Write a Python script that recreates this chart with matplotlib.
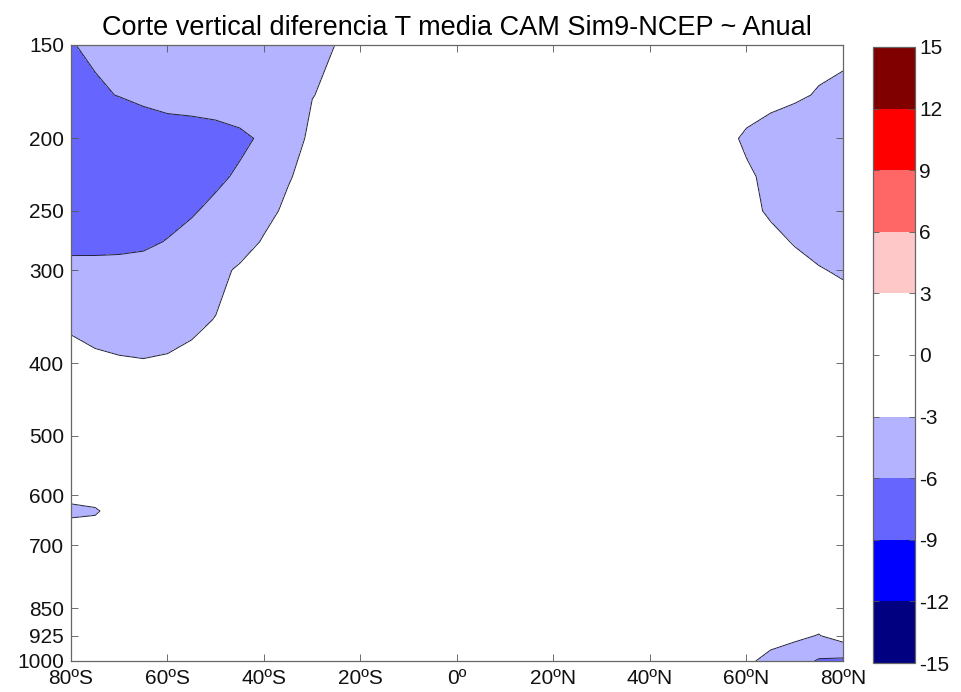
import numpy as np
import matplotlib
matplotlib.use('Agg')
import matplotlib.pyplot as plt

plt.rcParams['font.family'] = ['Liberation Sans', 'DejaVu Sans']
plt.rcParams['axes.unicode_minus'] = False

# latitude (deg, negative = south) and pressure levels (hPa)
lat = [-80, -75, -70, -65, -60, -55, -50, -45, -40, -35, -30, -25, -20,
       -10, 0, 10, 20, 30, 40, 50, 55, 60, 65, 70, 75, 80]
plev = [150, 175, 200, 225, 250, 275, 300, 350, 400, 500, 600, 630, 660,
        700, 850, 925, 1000]

# temperature difference CAM Sim9 - NCEP (K), one row per pressure level
t150 = [-6.06, -5.78, -5.5, -5.22, -4.94, -4.67, -4.39, -4.11, -3.83, -3.56, -3.28, -2.98, -2.5,
        -2.0, -1.5, -1.4, -1.4, -1.4, -1.5, -1.6, -1.8, -2.0, -2.2, -2.4, -2.6, -2.7]
t175 = [-6.5, -6.2, -5.95, -5.6, -5.3, -5.2, -5.1, -4.8, -4.3, -3.7, -3.05, -2.6, -2.2,
        -1.8, -1.5, -1.3, -1.3, -1.3, -1.5, -1.8, -2.1, -2.4, -2.6, -2.8, -3.1, -3.3]
t200 = [-7.5, -7.4, -7.3, -7.2, -7.0, -6.9, -6.7, -6.4, -5.7, -4.1, -2.5, -2.0, -1.8,
        -1.5, -1.2, -1.2, -1.2, -1.2, -1.2, -2.0, -2.6, -3.2, -3.6, -3.9, -4.1, -4.2]
t225 = [-7.8, -7.7, -7.6, -7.4, -7.1, -6.8, -6.4, -5.7, -4.6, -3.15, -2.3, -1.9, -1.7,
        -1.5, -1.2, -1.2, -1.2, -1.2, -1.2, -1.8, -2.3, -2.8, -3.3, -3.7, -4.0, -4.1]
t250 = [-7.7, -7.6, -7.4, -7.1, -6.7, -6.2, -5.5, -4.6, -3.6, -2.6, -2.1, -1.8, -1.6,
        -1.4, -1.2, -1.2, -1.2, -1.2, -1.2, -1.8, -2.2, -2.6, -3.2, -3.6, -3.9, -4.0]
t275 = [-7.0, -6.9, -6.7, -6.4, -5.9, -5.3, -4.6, -3.9, -2.8, -2.2, -1.9, -1.7, -1.5,
        -1.3, -1.2, -1.2, -1.2, -1.2, -1.2, -1.6, -1.9, -2.2, -2.6, -3.1, -3.5, -3.7]
t300 = [-4.9, -5.0, -5.1, -5.15, -4.9, -4.4, -3.6, -2.7, -2.2, -1.9, -1.7, -1.5, -1.4,
        -1.3, -1.2, -1.2, -1.2, -1.2, -1.2, -1.4, -1.6, -1.8, -2.1, -2.5, -2.9, -3.2]
t350 = [-3.24, -3.53, -3.6, -3.37, -3.48, -3.4, -2.93, -2.5, -2.1, -1.8, -1.6, -1.5, -1.4,
        -1.3, -1.2, -1.2, -1.2, -1.2, -1.2, -1.3, -1.4, -1.5, -1.6, -1.8, -2.0, -2.1]
t400 = [-2.5, -2.7, -2.85, -2.95, -2.85, -2.49, -2.2, -2.0, -1.8, -1.6, -1.5, -1.4, -1.3,
        -1.2, -1.1, -1.1, -1.1, -1.1, -1.1, -1.2, -1.2, -1.3, -1.4, -1.5, -1.6, -1.7]
t500 = [-2.3, -2.2, -2.0, -1.9, -1.8, -1.7, -1.6, -1.5, -1.4, -1.3, -1.2, -1.2, -1.1,
        -1.0, -1.0, -1.0, -1.0, -1.0, -1.0, -1.1, -1.1, -1.2, -1.2, -1.3, -1.3, -1.4]
t600 = [-2.4, -2.3, -2.0, -1.8, -1.6, -1.5, -1.4, -1.3, -1.2, -1.2, -1.1, -1.1, -1.0,
        -1.0, -1.0, -1.0, -1.0, -1.0, -1.0, -1.0, -1.1, -1.1, -1.2, -1.2, -1.3, -1.3]
t630 = [-3.5, -3.2, -2.2, -1.9, -1.7, -1.5, -1.4, -1.3, -1.2, -1.2, -1.1, -1.1, -1.0,
        -1.0, -1.0, -1.0, -1.0, -1.0, -1.0, -1.0, -1.1, -1.1, -1.2, -1.2, -1.3, -1.3]
t660 = [-2.4, -2.5, -2.1, -1.8, -1.6, -1.5, -1.4, -1.3, -1.2, -1.2, -1.1, -1.1, -1.0,
        -1.0, -1.0, -1.0, -1.0, -1.0, -1.0, -1.0, -1.1, -1.1, -1.2, -1.2, -1.3, -1.3]
t700 = [-2.2, -2.1, -1.9, -1.7, -1.5, -1.4, -1.3, -1.2, -1.2, -1.1, -1.1, -1.0, -1.0,
        -1.0, -1.0, -1.0, -1.0, -1.0, -1.0, -1.0, -1.1, -1.1, -1.2, -1.2, -1.3, -1.3]
t850 = [-1.8, -1.7, -1.6, -1.5, -1.4, -1.3, -1.2, -1.1, -1.0, -1.0, -1.0, -1.0, -1.0,
        -1.0, -1.0, -1.0, -1.0, -1.0, -1.0, -1.1, -1.1, -1.2, -1.3, -1.4, -1.5, -1.3]
t925 = [-1.6, -1.5, -1.4, -1.3, -1.3, -1.2, -1.2, -1.1, -1.1, -1.0, -1.0, -1.0, -1.0,
        -1.0, -1.0, -1.0, -1.0, -1.0, -1.0, -1.2, -1.3, -1.5, -2.0, -2.5, -3.1, -1.8]
t1000 = [-1.5, -1.5, -1.4, -1.4, -1.3, -1.3, -1.2, -1.2, -1.1, -1.1, -1.0, -1.0, -1.0,
         -1.0, -1.0, -1.0, -1.0, -1.0, -1.1, -1.6, -2.0, -2.5, -3.8, -4.6, -6.3, -6.6]

temp_diff = np.array([t150, t175, t200, t225, t250, t275, t300, t350, t400, t500,
                      t600, t630, t660, t700, t850, t925, t1000])

levels = [-15, -12, -9, -6, -3, 0, 3, 6, 9, 12, 15]
fill_colors = ['#000080', '#0000ff', '#6666ff', '#b3b3ff', '#ffffff',
               '#ffffff', '#ffc8c8', '#ff6666', '#ff0000', '#800000']

lat_ticks = [-80, -60, -40, -20, 0, 20, 40, 60, 80]
lat_labels = ['80ºS', '60ºS', '40ºS', '20ºS', '0º', '20ºN', '40ºN', '60ºN', '80ºN']
p_ticks = [150, 200, 250, 300, 400, 500, 600, 700, 850, 925, 1000]

fig = plt.figure(figsize=(9.62, 6.92), dpi=100)
ax = fig.add_axes([0.0738, 0.0448, 0.8025, 0.8902])
cax = fig.add_axes([0.9075, 0.0419, 0.0437, 0.8902])

cf = ax.contourf(lat, plev, temp_diff, levels=levels, colors=fill_colors)
ax.contour(lat, plev, temp_diff, levels=levels, colors='#20203a',
           linewidths=0.7, linestyles='solid')

ax.set_yscale('log')
ax.set_ylim(1000, 150)
ax.set_xlim(-80, 80)
ax.set_yticks(p_ticks)
ax.set_yticklabels([str(p) for p in p_ticks])
ax.minorticks_off()
ax.set_xticks(lat_ticks)
ax.set_xticklabels(lat_labels)
ax.tick_params(direction='in', top=True, right=True, length=5, width=0.6,
               labelsize=15, colors='#555555', labelcolor='#111111')
ax.tick_params(axis='x', pad=6)
ax.tick_params(axis='y', pad=5)
for s in ax.spines.values():
    s.set_linewidth(0.9)
    s.set_color('#666666')

ax.set_title('Corte vertical diferencia T media CAM Sim9-NCEP ~ Anual', fontsize=19.5, pad=7)

cb = fig.colorbar(cf, cax=cax, ticks=levels)
cb.ax.set_yticklabels([str(v) for v in levels])
cb.ax.tick_params(direction='in', left=True, right=True, length=4, width=0.6,
                  labelsize=15, pad=3, colors='#555555', labelcolor='#111111')
cb.outline.set_linewidth(0.9)
cb.outline.set_edgecolor('#666666')

fig.savefig('out.png', dpi=100)
